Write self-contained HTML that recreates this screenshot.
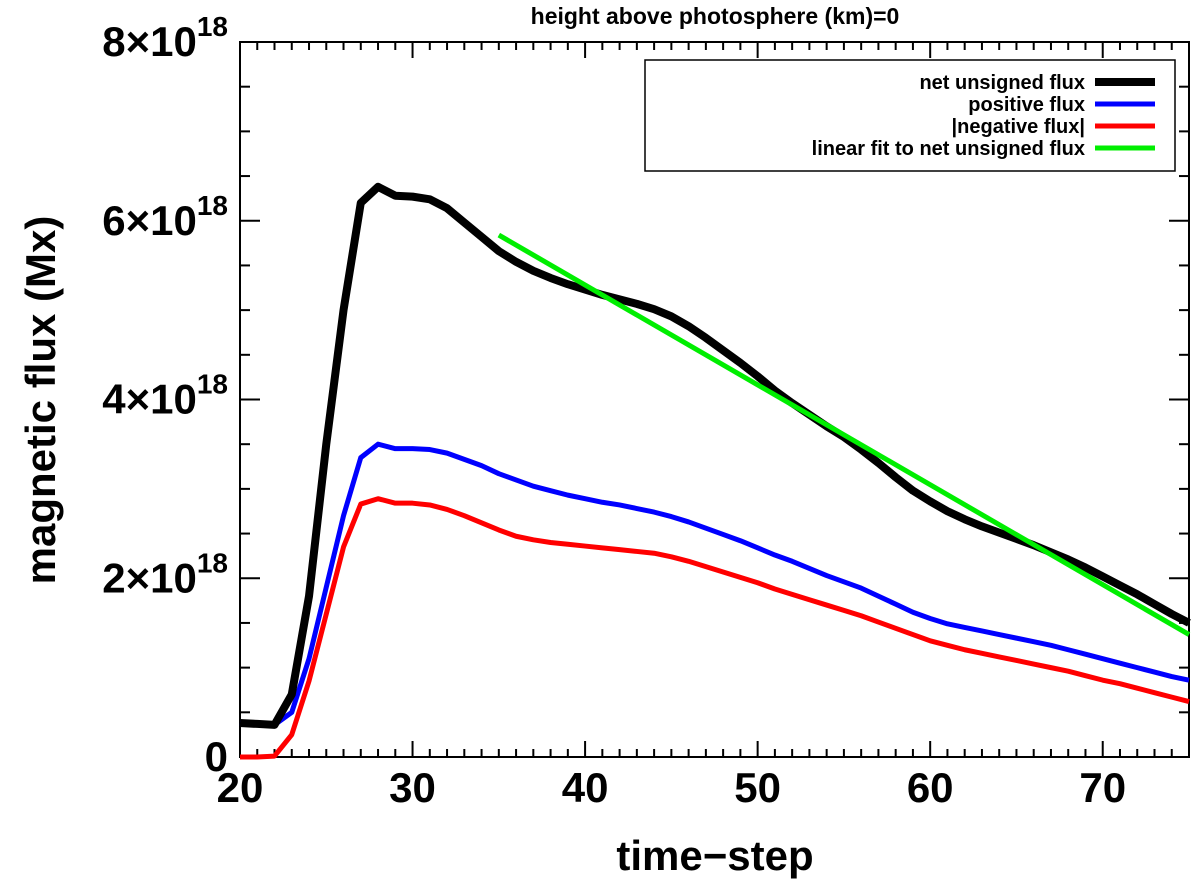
<!DOCTYPE html>
<html><head><meta charset="utf-8"><style>
body{margin:0;background:#fff}
svg{display:block;font-family:"Liberation Sans",sans-serif}
</style></head><body>
<svg id="chart" width="1200" height="890">
<g id="axes"></g><g id="series"></g>
</svg>
<script>
const steps=[];for(let i=20;i<=75;i++)steps.push(i);
const netFlux=[0.38,0.37,0.36,0.7,1.8,3.5,5.0,6.2,6.38,6.28,6.27,6.24,6.14,5.98,5.82,5.66,5.54,5.44,5.36,5.29,5.23,5.17,5.12,5.07,5.01,4.93,4.82,4.69,4.55,4.41,4.26,4.10,3.96,3.83,3.70,3.58,3.44,3.29,3.13,2.98,2.86,2.75,2.66,2.58,2.51,2.44,2.37,2.29,2.21,2.12,2.02,1.92,1.82,1.71,1.60,1.50];
const posFlux=[0.38,0.37,0.36,0.5,1.1,1.9,2.7,3.35,3.5,3.45,3.45,3.44,3.4,3.33,3.26,3.17,3.1,3.03,2.98,2.93,2.89,2.85,2.82,2.78,2.74,2.69,2.63,2.56,2.49,2.42,2.34,2.26,2.19,2.11,2.03,1.96,1.89,1.80,1.71,1.62,1.55,1.49,1.45,1.41,1.37,1.33,1.29,1.25,1.20,1.15,1.10,1.05,1.0,0.95,0.90,0.86];
const negFlux=[0,0,0.01,0.25,0.85,1.6,2.35,2.83,2.89,2.84,2.84,2.82,2.77,2.70,2.62,2.54,2.47,2.43,2.40,2.38,2.36,2.34,2.32,2.30,2.28,2.24,2.19,2.13,2.07,2.01,1.95,1.88,1.82,1.76,1.70,1.64,1.58,1.51,1.44,1.37,1.30,1.25,1.20,1.16,1.12,1.08,1.04,1.00,0.96,0.91,0.86,0.82,0.77,0.72,0.67,0.62];
const fitX=[35,75];
const fitY=[5.84,1.37];
const xTicks=[20,30,40,50,60,70];
const yTicks=[0,2,4,6,8];
const L=240,R=1189,T=42,B=757;
const X=v=>L+(v-20)*(R-L)/55;
const Y=v=>B-v*(B-T)/8;
const NS="http://www.w3.org/2000/svg";
const ax=document.getElementById('axes'),sg=document.getElementById('series');
function mk(tag,attrs,parent,text){const e=document.createElementNS(NS,tag);for(const k in attrs)e.setAttribute(k,attrs[k]);if(text!==undefined)e.textContent=text;parent.appendChild(e);return e;}
let fr=mk('rect',{x:L,y:T,width:R-L,height:B-T,fill:'none',stroke:'#000','stroke-width':2},ax);


for(let v=20;v<=75;v++){const len=(v%10===0)?16:8;
mk('line',{x1:X(v),x2:X(v),y1:B,y2:B-len,stroke:'#000','stroke-width':2},ax);
mk('line',{x1:X(v),x2:X(v),y1:T,y2:T+len,stroke:'#000','stroke-width':2},ax);}
for(let v=0;v<=8;v+=0.5){const len=(v%2===0)?20:10;
mk('line',{x1:L,x2:L+len,y1:Y(v),y2:Y(v),stroke:'#000','stroke-width':2},ax);
mk('line',{x1:R,x2:R-len,y1:Y(v),y2:Y(v),stroke:'#000','stroke-width':2},ax);}
xTicks.forEach(v=>{const t=mk('text',{x:X(v),y:802,'text-anchor':'middle','font-size':42,'font-weight':'bold'},ax,String(v));

});
yTicks.forEach(v=>{let t;
if(v===0){t=mk('text',{x:228,y:Y(v)+14,'text-anchor':'end','font-size':42,'font-weight':'bold'},ax,'0');}
else{t=mk('text',{x:228,y:Y(v)+14,'text-anchor':'end','font-size':42,'font-weight':'bold'},ax);
const a=mk('tspan',{},t,v+'×10');const b=mk('tspan',{dy:-20,'font-size':28},t,'18');}

});
let xt=mk('text',{x:715,y:870,'text-anchor':'middle','font-size':42,'font-weight':'bold'},ax,'time−step');


let yt=mk('text',{x:0,y:0,'text-anchor':'middle','font-size':42,'font-weight':'bold',transform:'translate(55,400) rotate(-90)'},ax,'magnetic flux (Mx)');


let tt=mk('text',{x:715,y:24,'text-anchor':'middle','font-size':23,'font-weight':'bold'},ax,'height above photosphere (km)=0');


function line(xs,ys,color,w,name){const p=mk('polyline',{points:xs.map((x,i)=>X(x)+','+Y(ys[i])).join(' '),fill:'none',stroke:color,'stroke-width':w,'stroke-linejoin':'round'},sg);

}
line(steps,negFlux,'#ff0000',5,'negative-flux-line');
line(steps,posFlux,'#0000ff',5,'positive-flux-line');
line(steps,netFlux,'#000000',8,'net-unsigned-flux-line');
line(fitX,fitY,'#00ee00',5,'linear-fit-line');
const lg=mk('g',{},ax);


mk('rect',{x:645,y:60,width:530,height:111,fill:'#fff',stroke:'#000','stroke-width':1.5},lg);
const labels=['net unsigned flux','positive flux','|negative flux|','linear fit to net unsigned flux'];
const colors=['#000','#0000ff','#ff0000','#00ee00'];
const widths=[8,5,5,5];
labels.forEach((s,i)=>{const y=82+i*22;
const e=mk('g',{},lg);


mk('text',{x:1085,y:y+7,'text-anchor':'end','font-size':20,'font-weight':'bold'},e,s);
mk('line',{x1:1095,x2:1155,y1:y,y2:y,stroke:colors[i],'stroke-width':widths[i]},e);});
</script>
</body></html>
